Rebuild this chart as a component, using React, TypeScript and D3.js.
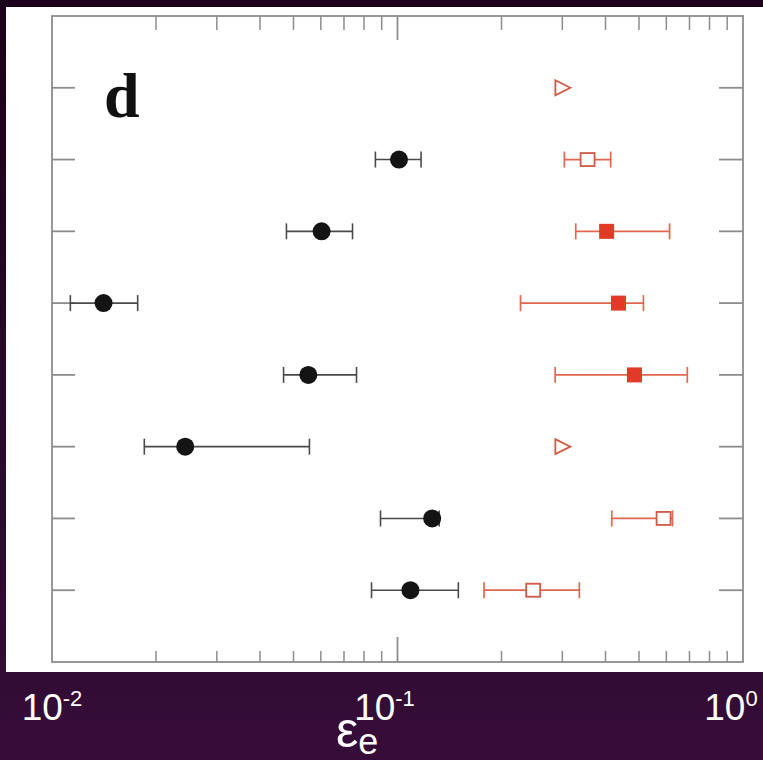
import React from "react";
import * as d3 from "d3";

// ---- data ----
const rowIds = [1, 2, 3, 4, 5, 6, 7, 8];

// black points (circles) with horizontal error bars
const blackVal = [null, 0.101, 0.0603, 0.0141, 0.0552, 0.0243, 0.126, 0.109];
const blackLo = [null, 0.0863, 0.0477, 0.0113, 0.0468, 0.0185, 0.0893, 0.0841];
const blackHi = [null, 0.117, 0.0741, 0.0177, 0.0761, 0.0556, 0.132, 0.15];

// red points
const redVal = [0.3, 0.355, 0.403, 0.436, 0.485, 0.3, 0.589, 0.247];
const redLo = [null, 0.304, 0.328, 0.227, 0.286, null, 0.417, 0.178];
const redHi = [null, 0.414, 0.613, 0.515, 0.69, null, 0.625, 0.336];
const redKind = ["limit", "open", "filled", "filled", "filled", "limit", "open", "open"];

const xTickValues = [0.01, 0.1, 1];
const xTickExp = ["-2", "-1", "0"];
const panelLabel = "d";

export default function App() {
  const W = 763;
  const H = 760;
  const left = 52, right = 743, top = 16, bottom = 662;

  const x = d3.scaleLog().domain([0.01, 1]).range([left, right]);
  const y = d3.scaleLinear().domain([0, 9]).range([top, bottom]);

  const minorTicks: number[] = [];
  [0.01, 0.1].forEach((d) => {
    for (let k = 2; k <= 9; k++) minorTicks.push(d * k);
  });

  const axisColor = "#8c8c8c";
  const blackErr = "#4a4a4a";
  const redErr = "#e2664e";
  const redFill = "#e33a28";
  const redOpen = "#cf5a47";
  const capH = 8;
  const labelShift = [0, -13, -12];

  return (
    <svg
      width={W}
      height={H}
      style={{ position: "absolute", left: 0, top: 0, display: "block" }}
    >
      <defs>
        <linearGradient id="bg" x1="0" y1="0" x2="0" y2="1">
          <stop offset="0" stopColor="#1b0119" />
          <stop offset="0.6" stopColor="#2a0a2c" />
          <stop offset="1" stopColor="#360d39" />
        </linearGradient>
      </defs>
      <rect x={0} y={0} width={W} height={H} fill="url(#bg)" />
      <rect x={6} y={7} width={W - 6} height={665} fill="#ffffff" />

      {/* frame */}
      <rect
        x={left}
        y={top}
        width={right - left}
        height={bottom - top}
        fill="none"
        stroke={axisColor}
        strokeWidth={1.8}
      />

      {/* top & bottom ticks */}
      {minorTicks.map((v, i) => (
        <g key={"mt" + i}>
          <line x1={x(v)} x2={x(v)} y1={top} y2={top + 14} stroke={axisColor} strokeWidth={1.5} />
          <line x1={x(v)} x2={x(v)} y1={bottom} y2={bottom - 11} stroke={axisColor} strokeWidth={1.5} />
        </g>
      ))}
      <line x1={x(0.1)} x2={x(0.1)} y1={top} y2={top + 24} stroke={axisColor} strokeWidth={1.8} />
      <line x1={x(0.1)} x2={x(0.1)} y1={bottom} y2={bottom - 25} stroke={axisColor} strokeWidth={1.8} />

      {/* left & right ticks */}
      {rowIds.map((r) => (
        <g key={"yt" + r}>
          <line x1={left} x2={left + 23} y1={y(r)} y2={y(r)} stroke={axisColor} strokeWidth={1.8} />
          <line x1={right} x2={right - 24} y1={y(r)} y2={y(r)} stroke={axisColor} strokeWidth={1.8} />
        </g>
      ))}

      {/* panel label */}
      <text
        x={104}
        y={117}
        fontFamily="'Liberation Serif', 'Times New Roman', serif"
        fontWeight="bold"
        fontSize={64}
        fill="#111"
      >
        {panelLabel}
      </text>

      {/* black series */}
      {rowIds.map((r, i) => {
        const v = blackVal[i];
        if (v == null) return null;
        const yy = y(r);
        const lo = blackLo[i] as number;
        const hi = blackHi[i] as number;
        return (
          <g key={"b" + r}>
            <line x1={x(lo)} x2={x(hi)} y1={yy} y2={yy} stroke={blackErr} strokeWidth={1.6} />
            <line x1={x(lo)} x2={x(lo)} y1={yy - capH} y2={yy + capH} stroke={blackErr} strokeWidth={1.6} />
            <line x1={x(hi)} x2={x(hi)} y1={yy - capH} y2={yy + capH} stroke={blackErr} strokeWidth={1.6} />
            <circle cx={x(v)} cy={yy} r={9} fill="#141414" />
          </g>
        );
      })}

      {/* red series */}
      {rowIds.map((r, i) => {
        const v = redVal[i];
        const yy = y(r);
        const cx = x(v);
        const kind = redKind[i];
        const lo = redLo[i];
        const hi = redHi[i];
        return (
          <g key={"r" + r}>
            {lo != null && hi != null && (
              <g>
                <line x1={x(lo)} x2={x(hi)} y1={yy} y2={yy} stroke={redErr} strokeWidth={1.7} />
                <line x1={x(lo)} x2={x(lo)} y1={yy - capH} y2={yy + capH} stroke={redErr} strokeWidth={1.7} />
                <line x1={x(hi)} x2={x(hi)} y1={yy - capH} y2={yy + capH} stroke={redErr} strokeWidth={1.7} />
              </g>
            )}
            {kind === "filled" && (
              <rect x={cx - 7.5} y={yy - 7.5} width={15} height={15} fill={redFill} />
            )}
            {kind === "open" && (
              <rect
                x={cx - 7}
                y={yy - 6.5}
                width={14}
                height={13}
                fill="#ffffff"
                stroke={redOpen}
                strokeWidth={1.8}
              />
            )}
            {kind === "limit" && (
              <path
                d={`M${cx - 7},${yy - 7.5} L${cx + 8},${yy} L${cx - 7},${yy + 7.5} Z`}
                fill="#ffffff"
                stroke={redOpen}
                strokeWidth={1.8}
                strokeLinejoin="miter"
              />
            )}
          </g>
        );
      })}

      {/* x tick labels (white, on the dark background) */}
      {xTickValues.map((v, i) => (
        <text
          key={"xl" + i}
          x={x(v) + labelShift[i]}
          y={720}
          textAnchor="middle"
          fontFamily="'Liberation Sans', Arial, sans-serif"
          fontSize={37}
          fill="#ffffff"
        >
          10
          <tspan dy={-14} fontSize={22}>
            {xTickExp[i]}
          </tspan>
        </text>
      ))}

      {/* axis title */}
      <text
        x={336}
        y={747}
        fontFamily="'Liberation Sans', Arial, sans-serif"
        fontSize={50}
        fill="#ffffff"
      >
        ε
        <tspan dy={7} fontSize={36}>
          e
        </tspan>
      </text>
    </svg>
  );
}
